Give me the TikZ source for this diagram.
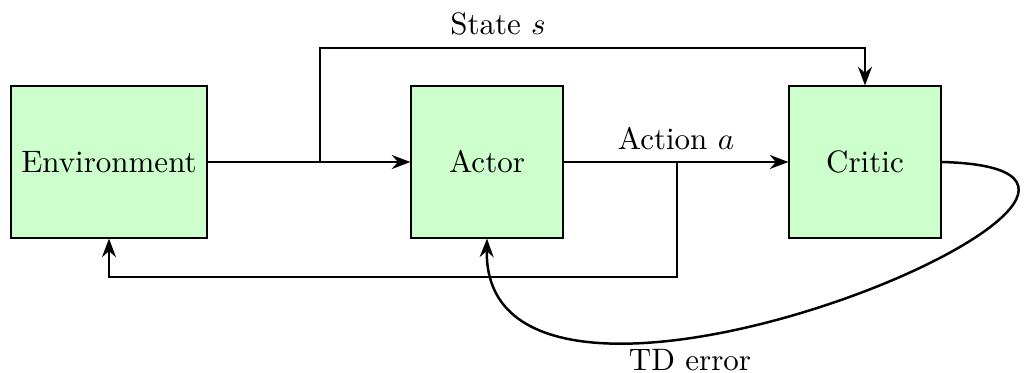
\documentclass[tikz,border=0pt]{standalone}
\usetikzlibrary{arrows.meta}
\begin{document}
\begin{tikzpicture}[x=0.3226pt, y=-0.3226pt,
  block/.style={draw=black, fill=green!20, minimum width=49pt, minimum height=49pt, inner sep=3.33pt},
  link/.style={thick, -{Stealth[length=6pt,width=4.5pt]}},
  plain/.style={thick}]
  \useasboundingbox (0,0) rectangle (1024,373);

  % blocks
  \node[block] (env)    at (109,162) {Environment};
  \node[block] (actor)  at (487,162) {Actor};
  \node[block] (critic) at (865,162) {Critic};

  % branch points
  \coordinate (sb) at (320,162);
  \coordinate (st) at (320,48);
  \coordinate (ab) at (677,162);
  \coordinate (ad) at (677,277);

  % state flow
  \draw[link] (env.east) -- (actor.west);
  \draw[link] (sb) -- (st) -| (critic.north);
  \node[anchor=base] (statelbl) at (498,35) {State $s$};

  % action flow
  \draw[link] (actor.east) -- (critic.west);
  \node[anchor=base] (actlbl) at (676,150) {Action $a$};
  \draw[link] (ab) -- (ad) -| (env.south);

  % TD error feedback
  \draw[link] (critic.east) .. controls +(320,8) and +(-5,262) .. (actor.south);
  \node[anchor=base] (tdlbl) at (690,371) {TD error};
\end{tikzpicture}
\end{document}
